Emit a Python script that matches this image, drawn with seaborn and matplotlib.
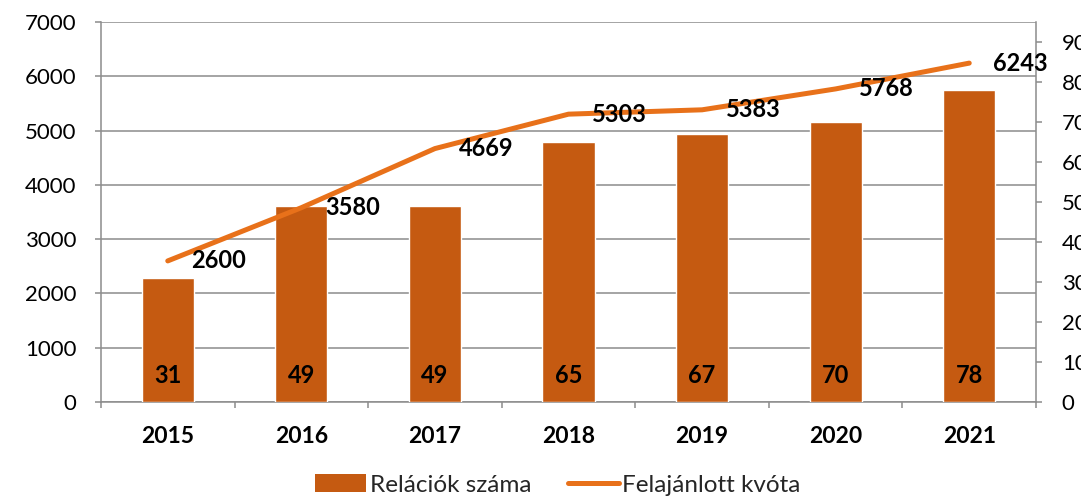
import numpy as np
import pandas as pd
import matplotlib.pyplot as plt
from matplotlib.lines import Line2D
from matplotlib.patches import Patch
import seaborn as sns

years = ["2015", "2016", "2017", "2018", "2019", "2020", "2021"]
relations = [31, 49, 49, 65, 67, 70, 78]          # Relációk száma (right axis)
quota = [2600, 3580, 4669, 5303, 5383, 5768, 6243]  # Felajánlott kvóta (left axis)

bar_color = "#C55A11"
line_color = "#E8711A"
grey = "#8C8C8C"

sns.set_theme(style="white")
plt.rcParams["font.family"] = ["Lato", "DejaVu Sans"]

df = pd.DataFrame({"year": years, "relations": relations, "quota": quota})

fig = plt.figure(figsize=(10.81, 4.97), dpi=100)
ax = fig.add_axes([0.0934, 0.191, 0.865, 0.7647])

# bars on the right axis, line on its own axis above the bars
ax2 = ax.twinx()
sns.barplot(data=df, x="year", y="relations", color=bar_color, saturation=1,
            width=0.39, ax=ax2)
ax3 = ax.twinx()
sns.pointplot(data=df, x="year", y="quota", color=line_color, markers="none",
              errorbar=None, linewidth=3.6, solid_capstyle="round", ax=ax3)

ax.set_ylim(0, 7000)
ax.set_yticks(range(0, 7001, 1000))
ax.yaxis.grid(True, color=grey, lw=1.1)
ax.set_xlim(-0.5, 6.5)
ax.set_xticks(range(len(years)))
ax.set_xticklabels(years, fontweight="bold")
ax.set_xticks(np.arange(-0.5, len(years), 1), minor=True)
ax.tick_params(axis="x", which="major", length=0, labelsize=16.5, pad=17,
               labelcolor="black")
ax.tick_params(axis="x", which="minor", bottom=True, length=4.5, width=1.1,
               color=grey, direction="out")
ax.tick_params(axis="y", left=True, length=4.5, width=1.1, color=grey,
               labelsize=16, pad=13, labelcolor="black")
ax.set_xlabel("")
ax.set_ylabel("")
for s in ["left", "bottom"]:
    ax.spines[s].set_color(grey)
    ax.spines[s].set_linewidth(1.1)
ax.spines["top"].set_visible(False)
ax.spines["right"].set_visible(False)

ax2.set_ylim(0, 95)
ax2.set_yticks(range(0, 91, 10))
ax2.tick_params(axis="y", right=True, length=4.5, width=1.1, color=grey,
                labelsize=16, pad=14, labelcolor="black")
ax2.set_ylabel("")
for s in ["top", "left", "bottom"]:
    ax2.spines[s].set_visible(False)
ax2.spines["right"].set_color(grey)
ax2.spines["right"].set_linewidth(1.1)

ax3.set_ylim(0, 7000)
ax3.set_yticks([])
ax3.set_ylabel("")
for s in ax3.spines.values():
    s.set_visible(False)

# value labels
for p, v in zip(ax2.patches, relations):
    ax2.annotate(str(v), (p.get_x() + p.get_width() / 2, 0), xytext=(0, 19),
                 textcoords="offset points", ha="center", va="center",
                 fontsize=17, fontweight="bold", color="black")

pts = ax3.lines[0].get_xydata()
for (x, y), v in zip(pts, quota):
    ax3.annotate(str(v), (x, y), xytext=(17, 0), textcoords="offset points",
                 ha="left", va="center", fontsize=17, fontweight="bold",
                 color="black")

handles = [Patch(facecolor=bar_color, edgecolor="none"),
           Line2D([], [], color=line_color, lw=3.6, solid_capstyle="round")]
fig.legend(handles, ["Relációk száma", "Felajánlott kvóta"], loc="center",
           bbox_to_anchor=(0.516, 0.024), ncol=2, frameon=False, fontsize=17.5,
           handlelength=2.1, handleheight=0.75, handletextpad=0.15,
           columnspacing=1.5)

fig.savefig("out.png", dpi=100)
